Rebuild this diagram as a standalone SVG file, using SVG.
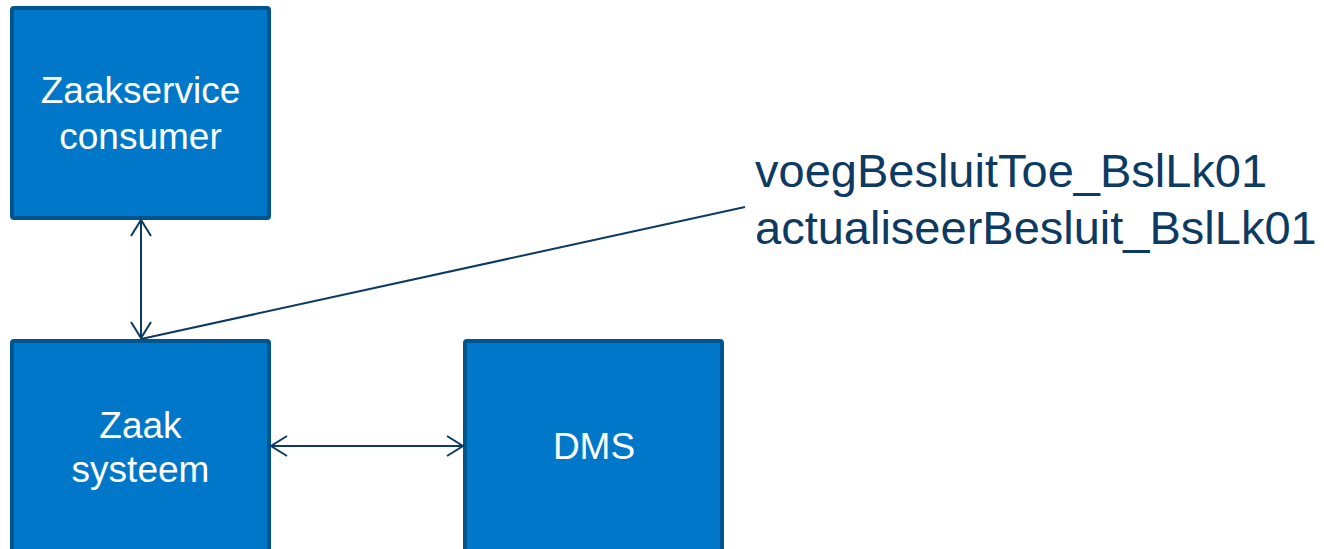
<svg xmlns="http://www.w3.org/2000/svg" width="1324" height="549" viewBox="0 0 1324 549">
<style>
.box{fill:#0077c8;stroke:#00558f;stroke-width:4}
.lbl{font-family:"Liberation Sans",Arial,sans-serif;font-size:37px;fill:#ffffff;text-anchor:middle}
.conn{stroke:#0d3a63;stroke-width:2;fill:none}
.note{font-family:"Liberation Sans",Arial,sans-serif;font-size:47px;fill:#0d3a63}
</style>
<defs>
<marker id="arr" markerUnits="userSpaceOnUse" viewBox="-18 -12 20 24" refX="0" refY="0" markerWidth="20" markerHeight="24" orient="auto-start-reverse">
<path d="M-16,-10 L0,0 L-16,10" fill="none" stroke="#0d3a63" stroke-width="2"/>
</marker>
</defs>
<rect width="1324" height="549" fill="#ffffff"/>
<g id="zaakservice-consumer">
<rect class="box" x="12" y="8" width="257" height="210" rx="2"/>
<text class="lbl" x="140.5" y="103">Zaakservice</text>
<text class="lbl" x="140.5" y="149">consumer</text>
</g>
<g id="zaak-systeem">
<rect class="box" x="12" y="341" width="257" height="230" rx="2"/>
<text class="lbl" x="140.5" y="438">Zaak</text>
<text class="lbl" x="140.5" y="482">systeem</text>
</g>
<g id="dms">
<rect class="box" x="465" y="341" width="257" height="230" rx="2"/>
<text class="lbl" x="594" y="459">DMS</text>
</g>
<g id="connectors">
<line class="conn" x1="141" y1="220" x2="141" y2="338" marker-start="url(#arr)" marker-end="url(#arr)"/>
<line class="conn" x1="271" y1="446" x2="463" y2="446" marker-start="url(#arr)" marker-end="url(#arr)"/>
<line class="conn" x1="141" y1="339" x2="745" y2="207"/>
</g>
<g id="operations">
<text class="note" x="755" y="187">voegBesluitToe_BslLk01</text>
<text class="note" x="755" y="244">actualiseerBesluit_BslLk01</text>
</g>
</svg>
